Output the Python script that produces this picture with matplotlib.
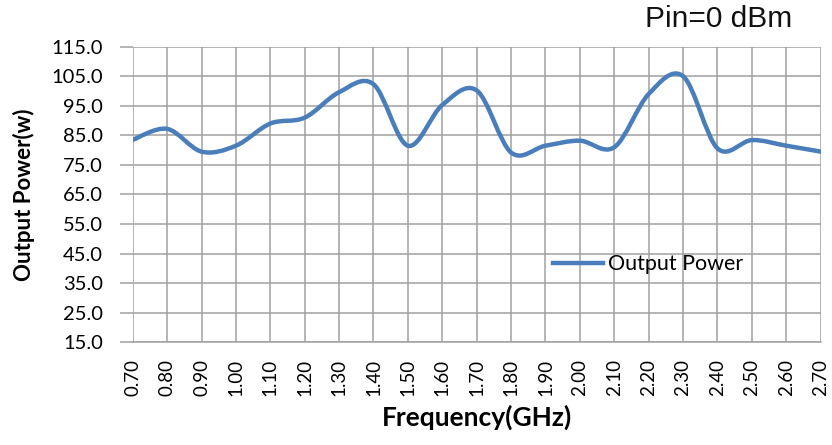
import numpy as np
import matplotlib
matplotlib.use('Agg')
import matplotlib.pyplot as plt
from matplotlib.path import Path
from matplotlib.patches import PathPatch
from matplotlib.lines import Line2D

plt.rcParams['font.family'] = ['Lato', 'DejaVu Sans']

freq_labels = ['0.70', '0.80', '0.90', '1.00', '1.10', '1.20', '1.30', '1.40', '1.50', '1.60',
               '1.70', '1.80', '1.90', '2.00', '2.10', '2.20', '2.30', '2.40', '2.50', '2.60', '2.70']
power = [83.5, 87.2, 79.5, 81.5, 89.0, 91.0, 99.6, 102.3, 81.5, 95.3,
         100.2, 79.2, 81.5, 83.2, 81.0, 99.0, 105.0, 80.6, 83.4, 81.5, 79.5]
y_ticks = np.arange(15, 116, 10)

LINE_COLOR = '#4a7ebb'
GRID_COLOR = '#a0a0a0'


def smooth_path(xs, ys):
    # Excel-like smoothed line: Catmull-Rom segments as cubic Beziers
    pts = np.column_stack([xs, ys]).astype(float)
    ext = np.vstack([pts[0], pts, pts[-1]])
    verts = [pts[0]]
    codes = [Path.MOVETO]
    for i in range(len(pts) - 1):
        p0, p1, p2, p3 = ext[i], ext[i + 1], ext[i + 2], ext[i + 3]
        c1 = p1 + (p2 - p0) / 6.0
        c2 = p2 - (p3 - p1) / 6.0
        verts += [c1, c2, p2]
        codes += [Path.CURVE4] * 3
    return Path(verts, codes)


fig = plt.figure(figsize=(8.32, 4.45), dpi=100)
ax = fig.add_axes([0.1595, 0.2308, 0.8269, 0.6643])

x = np.arange(len(freq_labels))
ax.add_patch(PathPatch(smooth_path(x, power), facecolor='none', edgecolor=LINE_COLOR,
                       lw=3.2, capstyle='round', joinstyle='round', zorder=3))

ax.set_xlim(0, len(freq_labels) - 1)
ax.set_ylim(15, 115)
ax.set_xticks(x)
ax.set_xticklabels(freq_labels, rotation=90, fontsize=13.5)
ax.set_yticks(y_ticks)
ax.set_yticklabels([f'{v:.1f}' for v in y_ticks], fontsize=14.5)

ax.grid(True, color=GRID_COLOR, lw=1.1)
ax.set_axisbelow(True)
for s in ['top', 'right', 'left']:
    ax.spines[s].set_visible(False)
ax.spines['bottom'].set_color(GRID_COLOR)
ax.spines['bottom'].set_linewidth(1.1)
ax.tick_params(axis='y', length=9.5, color=GRID_COLOR, width=1.1, pad=12)
ax.tick_params(axis='x', length=0, pad=12)

ax.set_xlabel('Frequency(GHz)', fontsize=19, fontweight='bold', labelpad=6)
ax.set_ylabel('Output Power(w)', fontsize=16, fontweight='bold', labelpad=12)

handle = Line2D([], [], color=LINE_COLOR, lw=3.2)
ax.legend([handle], ['Output Power'], loc='center left', bbox_to_anchor=(0.6105, 0.2639),
          frameon=False, fontsize=15.5, handlelength=2.35, handletextpad=0.2,
          borderpad=0, borderaxespad=0)

fig.text(0.952, 0.958, 'Pin=0 dBm', ha='right', va='center', fontsize=21.5,
         family='Liberation Sans', color='#111111')

fig.savefig('out.png', dpi=100)
